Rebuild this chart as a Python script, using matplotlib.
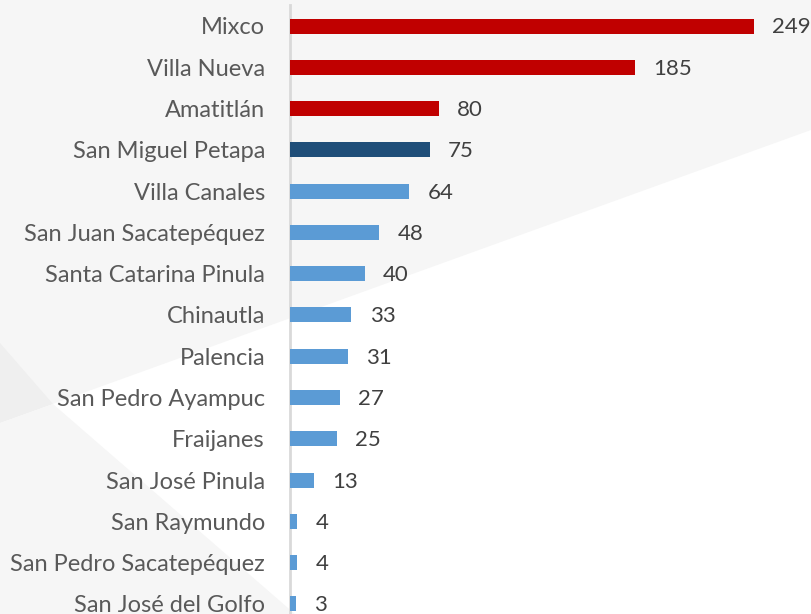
import matplotlib
matplotlib.use("Agg")
import matplotlib.pyplot as plt
from matplotlib.patches import Polygon

categories = ["Mixco", "Villa Nueva", "Amatitlán", "San Miguel Petapa", "Villa Canales",
              "San Juan Sacatepéquez", "Santa Catarina Pinula", "Chinautla", "Palencia",
              "San Pedro Ayampuc", "Fraijanes", "San José Pinula", "San Raymundo",
              "San Pedro Sacatepéquez", "San José del Golfo"]
values = [249, 185, 80, 75, 64, 48, 40, 33, 31, 27, 25, 13, 4, 4, 3]
groups = ["red", "red", "red", "dark", "light", "light", "light", "light", "light",
          "light", "light", "light", "light", "light", "light"]
palette = {"red": "#c00000", "dark": "#1f4e79", "light": "#5b9bd5"}

W, H = 811, 614
fig = plt.figure(figsize=(W / 100, H / 100), dpi=100)
fig.patch.set_facecolor("white")

def px(pts):
    return [(x / W, 1 - y / H) for x, y in pts]

# background decoration
fig.add_artist(Polygon(px([(0, 0), (W, 0), (W, 130), (0, 423)]), closed=True,
                       transform=fig.transFigure, facecolor="#f6f6f6", edgecolor="none", zorder=0))
fig.add_artist(Polygon(px([(0, 343), (53, 404), (0, 423)]), closed=True,
                       transform=fig.transFigure, facecolor="#efefef", edgecolor="none", zorder=0))
fig.add_artist(Polygon(px([(0, 423), (53, 404), (295, H), (0, H)]), closed=True,
                       transform=fig.transFigure, facecolor="#f6f6f6", edgecolor="none", zorder=0))

step = (604 - 26) / 14
top_px = 26 - step / 2
bot_px = 604 + step / 2
left_px = 290
ax = fig.add_axes([left_px / W, 1 - bot_px / H, 1 - left_px / W, (bot_px - top_px) / H])
ax.set_facecolor("none")

n = len(categories)
ypos = list(range(n))
scale = (754 - 290) / 249.0
ax.barh(ypos, values, height=15 / step, color=[palette[g] for g in groups], zorder=3)
ax.set_xlim(0, (W - left_px) / scale)
ax.set_ylim(n - 0.5, -0.5)

for y, v in zip(ypos, values):
    ax.annotate(str(v), (v, y), xytext=(13, -1), textcoords="offset points",
                va="center", ha="left", fontsize=16, color="#404040", family="Lato")

ax.set_yticks(ypos)
ax.set_yticklabels(categories, fontsize=17, color="#595959", family="Lato")
ax.tick_params(axis="y", length=0, pad=18)
ax.set_xticks([])
for s in ["top", "right", "bottom"]:
    ax.spines[s].set_visible(False)
ax.spines["left"].set_color("#d9d9d9")
ax.spines["left"].set_linewidth(2)

fig.savefig("out.png", dpi=100)
